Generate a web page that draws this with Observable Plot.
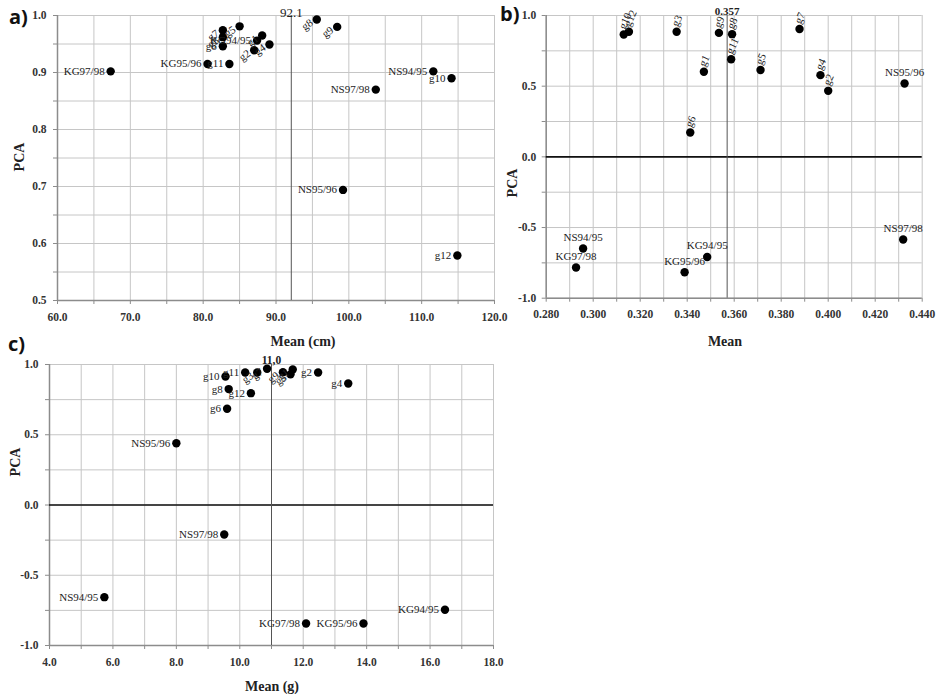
<!DOCTYPE html>
<html><head><meta charset="utf-8">
<script src="https://cdn.jsdelivr.net/npm/d3@7"></script>
<script src="https://cdn.jsdelivr.net/npm/@observablehq/plot@0.6"></script>
<style>
body{margin:0;background:#fff;}
#wrap{position:relative;width:938px;height:694px;overflow:hidden;background:#fff;font-family:"Liberation Serif",serif;color:#222;}
.p{position:absolute;}
.t{position:absolute;font-weight:bold;font-size:14px;white-space:nowrap;transform:translate(-50%,-50%);}
.r{position:absolute;font-weight:bold;font-size:14px;white-space:nowrap;transform:translate(-50%,-50%) rotate(-90deg);}
.pn{position:absolute;font-family:"Open Sans",sans-serif;font-weight:bold;font-size:20px;line-height:1.3;color:#111;}
</style></head><body><div id="wrap"></div>
<script>
// ---------- Panel a) Mean (cm) ----------
const aNames = ["KG94/95","KG95/96","KG97/98","NS94/95","NS95/96","NS97/98","g1","g2","g3","g4","g5","g6","g7","g8","g9","g10","g11","g12"];
const aMean  = [87.4, 80.6, 67.3, 111.6, 99.2, 103.7, 88.1, 87.0, 82.7, 89.1, 85.0, 82.7, 82.7, 95.6, 98.4, 114.1, 83.6, 114.9];
const aPca   = [0.956, 0.915, 0.902, 0.902, 0.694, 0.870, 0.965, 0.939, 0.962, 0.949, 0.981, 0.946, 0.974, 0.993, 0.980, 0.890, 0.915, 0.579];
const aRotated = ["g1","g2","g3","g4","g5","g7","g8","g9"];
const aXTicks = [60, 70, 80, 90, 100, 110, 120];
const aXGrid  = [60, 65, 70, 75, 80, 85, 90, 95, 100, 105, 110, 115, 120];
const aYTicks = [0.5, 0.6, 0.7, 0.8, 0.9, 1.0];
const aYGrid  = [0.5, 0.55, 0.6, 0.65, 0.7, 0.75, 0.8, 0.85, 0.9, 0.95, 1.0];
const aMeanLine = 92.1;
const aMeanText = "92.1";

// ---------- Panel b) Mean ----------
const bNames = ["g10","g12","g3","g9","g8","g11","g1","g6","g5","g7","g4","g2","NS95/96","NS94/95","KG97/98","KG95/96","KG94/95","NS97/98"];
const bMean  = [0.3130, 0.3152, 0.3355, 0.3535, 0.3591, 0.3587, 0.3471, 0.3413, 0.3712, 0.3878, 0.3967, 0.4000, 0.4325, 0.2957, 0.2927, 0.3389, 0.3485, 0.4319];
const bPca   = [0.866, 0.885, 0.885, 0.877, 0.868, 0.691, 0.602, 0.172, 0.614, 0.904, 0.578, 0.467, 0.519, -0.648, -0.783, -0.816, -0.708, -0.585];
const bXTicks = [0.28, 0.30, 0.32, 0.34, 0.36, 0.38, 0.40, 0.42, 0.44];
const bXGrid  = [0.28, 0.29, 0.30, 0.31, 0.32, 0.33, 0.34, 0.35, 0.36, 0.37, 0.38, 0.39, 0.40, 0.41, 0.42, 0.43, 0.44];
const bYTicks = [-1.0, -0.5, 0.0, 0.5, 1.0];
const bYGrid  = [-1.0, -0.75, -0.5, -0.25, 0.0, 0.25, 0.5, 0.75, 1.0];
const bMeanLine = 0.357;
const bMeanText = "0.357";

// ---------- Panel c) Mean (g) ----------
const cNames = ["NS95/96","g6","g8","g12","g10","g11","g3","g7","g9","g1","g5","g2","g4","NS97/98","NS94/95","KG97/98","KG95/96","KG94/95"];
const cMean  = [8.0, 9.6, 9.65, 10.35, 9.55, 10.17, 10.55, 10.86, 11.36, 11.67, 11.6, 12.47, 13.42, 9.51, 5.73, 12.09, 13.9, 16.47];
const cPca   = [0.44, 0.685, 0.825, 0.796, 0.915, 0.943, 0.943, 0.97, 0.945, 0.965, 0.93, 0.943, 0.865, -0.21, -0.656, -0.843, -0.843, -0.746];
const cRotated = ["g3","g7","g9","g1","g5"];
const cXTicks = [4, 6, 8, 10, 12, 14, 16, 18];
const cXGrid  = [4, 5, 6, 7, 8, 9, 10, 11, 12, 13, 14, 15, 16, 17, 18];
const cYTicks = [-1.0, -0.5, 0.0, 0.5, 1.0];
const cYGrid  = [-1.0, -0.75, -0.5, -0.25, 0.0, 0.25, 0.5, 0.75, 1.0];
const cMeanLine = 11.0;
const cMeanText = "11,0";

const wrap = document.getElementById("wrap");

function panel(o) {
  const idx = o.names.map((_, i) => i);
  const X = i => o.xs[i], Y = i => o.ys[i], T = i => o.names[i];
  const marks = [
    Plot.gridX(o.xGrid, {stroke: "#c6c6c6", strokeOpacity: 1}),
    Plot.gridY(o.yGrid, {stroke: "#c6c6c6", strokeOpacity: 1}),
    Plot.ruleX([o.xDomain[0]], {stroke: "#8c8c8c", strokeWidth: 1.5}),
    Plot.ruleY([o.yDomain[0]], {stroke: "#8c8c8c", strokeWidth: 1.5}),
    Plot.axisX(o.xGrid, {tickSize: 4, tickFormat: () => "", stroke: "#8c8c8c", label: null}),
    Plot.axisY(o.yGrid, {tickSize: 4, tickFormat: () => "", stroke: "#8c8c8c", label: null}),
    Plot.axisX(o.xTicks, {tickSize: 0, tickPadding: 12, tickFormat: o.xFmt, fontWeight: "bold", fontSize: 11.5, fill: "#333", label: null}),
    Plot.axisY(o.yTicks, {tickSize: 0, tickPadding: o.yPad, tickFormat: o.yFmt, fontWeight: "bold", fontSize: 11.5, fill: "#333", label: null}),
  ];
  if (o.zero) marks.push(Plot.ruleY([0], {stroke: "#111", strokeWidth: 1.6}));
  marks.push(Plot.ruleX([o.mean], {stroke: "#555", strokeWidth: 1}));
  marks.push(Plot.text([o.mean], {x: d => d, frameAnchor: "top", dy: o.meanDy, text: () => o.meanText,
    fontWeight: o.meanBold ? "bold" : "normal", fontSize: o.meanSize, fill: "#222"}));
  marks.push(Plot.dot(idx, {x: X, y: Y, r: 4.2, fill: "#000", stroke: null}));
  if (o.mode === "left") {
    const rot = idx.filter(i => o.rotated.includes(o.names[i]));
    const flat = idx.filter(i => !o.rotated.includes(o.names[i]));
    marks.push(Plot.text(flat, {x: X, y: Y, text: T, textAnchor: "end", dx: -6, fontSize: 11, fill: "#222"}));
    marks.push(Plot.text(rot, {x: X, y: Y, text: T, textAnchor: "end", dx: -5, dy: 2, rotate: -35, fontSize: 11, fill: "#222"}));
  } else {
    const rot = idx.filter(i => o.names[i].startsWith("g"));
    const flat = idx.filter(i => !o.names[i].startsWith("g"));
    marks.push(Plot.text(flat, {x: X, y: Y, text: T, textAnchor: "middle", dy: -11, fontSize: 11, fill: "#222"}));
    marks.push(Plot.text(rot, {x: X, y: Y, text: T, textAnchor: "start", dx: -2, dy: -6, rotate: -65, fontSize: 11, fill: "#222"}));
  }
  const svg = Plot.plot({
    width: o.width, height: o.height,
    marginLeft: o.m[0], marginRight: o.m[1], marginTop: o.m[2], marginBottom: o.m[3],
    x: {domain: o.xDomain}, y: {domain: o.yDomain},
    style: {fontFamily: "Liberation Serif, serif", fontSize: "11px", background: "transparent", overflow: "visible", color: "#222"},
    marks
  });
  svg.classList.add("p");
  svg.style.left = o.left + "px";
  svg.style.top = o.top + "px";
  wrap.appendChild(svg);
}

const f1 = d => d.toFixed(1);
const f3 = d => d.toFixed(3);

panel({names: aNames, xs: aMean, ys: aPca, xDomain: [60, 120], yDomain: [0.5, 1.0],
  xTicks: aXTicks, xGrid: aXGrid, yTicks: aYTicks, yGrid: aYGrid, xFmt: f1, yFmt: f1, yPad: 11,
  mean: aMeanLine, meanText: aMeanText, meanDy: -8, meanBold: false, meanSize: 13, zero: false,
  mode: "left", rotated: aRotated, width: 498, height: 325, m: [57, 4, 15, 25], left: 0, top: 0});

panel({names: bNames, xs: bMean, ys: bPca, xDomain: [0.28, 0.44], yDomain: [-1, 1],
  xTicks: bXTicks, xGrid: bXGrid, yTicks: bYTicks, yGrid: bYGrid, xFmt: f3, yFmt: f1, yPad: 10,
  mean: bMeanLine, meanText: bMeanText, meanDy: -8, meanBold: true, meanSize: 11, zero: true,
  mode: "above", rotated: [], width: 458, height: 325, m: [65.7, 16.3, 15, 27.3], left: 480, top: 0});

panel({names: cNames, xs: cMean, ys: cPca, xDomain: [4, 18], yDomain: [-1, 1],
  xTicks: cXTicks, xGrid: cXGrid, yTicks: cYTicks, yGrid: cYGrid, xFmt: f1, yFmt: f1, yPad: 11,
  mean: cMeanLine, meanText: cMeanText, meanDy: -9, meanBold: true, meanSize: 11.5, zero: true,
  mode: "left", rotated: cRotated, width: 500, height: 330, m: [49, 7, 24, 25], left: 0, top: 340});

function addText(cls, txt, x, y) {
  const d = document.createElement("div");
  d.className = cls; d.textContent = txt;
  d.style.left = x + "px"; d.style.top = y + "px";
  wrap.appendChild(d);
}
addText("pn", "a)", 9, 4);
addText("pn", "b)", 500, 1);
addText("pn", "c)", 8, 331);
addText("r", "PCA", 20, 157);
addText("r", "PCA", 513, 183);
addText("r", "PCA", 16, 462);
addText("t", "Mean (cm)", 303, 342);
addText("t", "Mean", 725, 342);
addText("t", "Mean (g)", 272, 687);
</script></body></html>
